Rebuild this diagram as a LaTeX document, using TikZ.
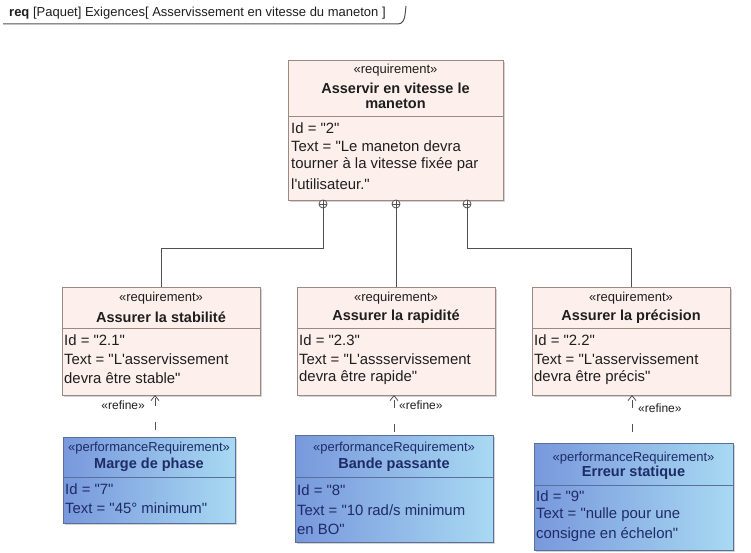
\documentclass[tikz,border=0pt]{standalone}
\usepackage{fontspec}
\setmainfont{Liberation Sans}[Ligatures=TeXOff]
\usetikzlibrary{arrows.meta,shadows}

\definecolor{reqfill}{HTML}{FDF0EC}
\definecolor{reqdraw}{HTML}{9C8A82}
\definecolor{perfL}{HTML}{7898DC}
\definecolor{perfR}{HTML}{A8D9F2}
\definecolor{perfdraw}{HTML}{5B6F9C}
\definecolor{navy}{HTML}{1E2B66}
\definecolor{linegray}{HTML}{505050}
\definecolor{txt}{HTML}{1E1E1E}

\begin{document}
\begin{tikzpicture}[x=1pt,y=-1pt,
  boxshadow/.style={drop shadow={shadow xshift=2pt,shadow yshift=-2pt,opacity=0.35}},
  reqbox/.style={draw=reqdraw, fill=reqfill, line width=0.9pt, boxshadow, inner sep=0pt, outer sep=0pt},
  perfbox/.style={draw=perfdraw, left color=perfL, right color=perfR, line width=0.9pt, boxshadow, inner sep=0pt, outer sep=0pt},
  stereo/.style={font=\fontsize{13}{15}\selectfont, inner sep=0pt, text=txt},
  ttl/.style={font=\fontsize{14.5}{17}\selectfont\bfseries, inner sep=0pt, text=txt},
  body/.style={font=\fontsize{14.9}{17}\selectfont, anchor=west, inner sep=0pt, text=txt},
  pstereo/.style={stereo, text=navy},
  pttl/.style={ttl, text=navy},
  pbody/.style={body, text=navy},
  conn/.style={draw=linegray, line width=0.8pt},
  contain/.style={circle, draw=linegray, fill=white, line width=0.8pt, inner sep=0pt, minimum size=8pt},
  refine/.style={draw=linegray, line width=0.8pt, dash pattern=on 8pt off 16pt, -{Straight Barb[length=5pt,width=8pt]}},
  reflabel/.style={font=\fontsize{12}{14}\selectfont, inner sep=0pt, text=txt}
]
\useasboundingbox (0,0) rectangle (751,553);

% frame header
\node[font=\fontsize{13}{15}\selectfont, anchor=west, inner sep=0pt, text=txt] (hdr) at (9,13)
  {\textbf{req} [Paquet] Exigences[ Asservissement en vitesse du maneton ]};
\draw[linegray, line width=1pt] (3,24) -- (398,24) to[out=0,in=-95] (405,15) -- (406,6);

% top requirement
\node[reqbox, minimum width=215pt, minimum height=140pt] (asv) at (395.5,130) {};
\draw[reqdraw, line width=0.9pt] (asv.west |- 0,116) -- (asv.east |- 0,116);
\node[stereo] (asvs) at (395.5,70) {«requirement»};
\node[ttl] (asvt1) at (395.5,88) {Asservir en vitesse le};
\node[ttl] (asvt2) at (395.5,104) {maneton};
\node[body] (asvb1) at (291,128) {Id = "2"};
\node[body] (asvb2) at (291,146) {Text = "Le maneton devra};
\node[body] (asvb3) at (291,165) {tourner à la vitesse fixée par};
\node[body] (asvb4) at (291,184) {l'utilisateur."};

% three requirements
\node[reqbox, minimum width=198pt, minimum height=108pt] (stab) at (161,341) {};
\draw[reqdraw, line width=0.9pt] (stab.west |- 0,328) -- (stab.east |- 0,328);
\node[stereo] (stabs) at (161,298) {«requirement»};
\node[ttl] (stabt) at (161,317) {Assurer la stabilité};
\node[body] (stabb1) at (64,340) {Id = "2.1"};
\node[body] (stabb2) at (64,359) {Text = "L'asservissement};
\node[body] (stabb3) at (64,378) {devra être stable"};

\node[reqbox, minimum width=198pt, minimum height=108pt] (rap) at (396,341) {};
\draw[reqdraw, line width=0.9pt] (rap.west |- 0,328) -- (rap.east |- 0,328);
\node[stereo] (raps) at (396,298) {«requirement»};
\node[ttl] (rapt) at (396,317) {Assurer la rapidité};
\node[body] (rapb1) at (299,340) {Id = "2.3"};
\node[body] (rapb2) at (299,359) {Text = "L'assservissement};
\node[body] (rapb3) at (299,378) {devra être rapide"};

\node[reqbox, minimum width=198pt, minimum height=108pt] (prec) at (631,341) {};
\draw[reqdraw, line width=0.9pt] (prec.west |- 0,328) -- (prec.east |- 0,328);
\node[stereo] (precs) at (631,298) {«requirement»};
\node[ttl] (prect) at (631,317) {Assurer la précision};
\node[body] (precb1) at (534,340) {Id = "2.2"};
\node[body] (precb2) at (534,359) {Text = "L'asservissement};
\node[body] (precb3) at (534,378) {devra être précis"};

% performance requirements
\node[perfbox, minimum width=172pt, minimum height=86pt] (marge) at (149,480) {};
\draw[perfdraw, line width=0.9pt] (marge.west |- 0,477) -- (marge.east |- 0,477);
\node[pstereo] (marges) at (149,448) {«performanceRequirement»};
\node[pttl] (marget) at (149,465) {Marge de phase};
\node[pbody] (margeb1) at (65,489) {Id = "7"};
\node[pbody] (margeb2) at (65,508) {Text = "45° minimum"};

\node[perfbox, minimum width=198pt, minimum height=107pt] (bande) at (394,488.5) {};
\draw[perfdraw, line width=0.9pt] (bande.west |- 0,477) -- (bande.east |- 0,477);
\node[pstereo] (bandes) at (394,448) {«performanceRequirement»};
\node[pttl] (bandet) at (394,465) {Bande passante};
\node[pbody] (bandeb1) at (297,490) {Id = "8"};
\node[pbody] (bandeb2) at (297,510) {Text = "10 rad/s minimum};
\node[pbody] (bandeb3) at (297,529) {en BO"};

\node[perfbox, minimum width=199pt, minimum height=107pt] (err) at (633.5,496.5) {};
\draw[perfdraw, line width=0.9pt] (err.west |- 0,485) -- (err.east |- 0,485);
\node[pstereo] (errs) at (633.5,458) {«performanceRequirement»};
\node[pttl] (errt) at (633.5,473) {Erreur statique};
\node[pbody] (errb1) at (536,496) {Id = "9"};
\node[pbody] (errb2) at (536,515) {Text = "nulle pour une};
\node[pbody] (errb3) at (536,535) {consigne en échelon"};

% containment connectors
\node[contain] (c1) at (323,204) {};
\node[contain] (c2) at (396,204) {};
\node[contain] (c3) at (467,204) {};
\foreach \c in {c1,c2,c3}{
  \draw[conn] (\c.north) -- (\c.south) (\c.west) -- (\c.east);
}
\draw[conn] (c1.south) -- ++(0,40) -| (stab.north);
\draw[conn] (c2.south) -- (rap.north);
\draw[conn] (c3.south) -- ++(0,40) -| (prec.north);

% refine connectors
\draw[refine, dash phase=17pt] ([xshift=-6pt]stab.south |- marge.north) -- ([xshift=-6pt]stab.south);
\draw[refine, dash phase=21pt] ([xshift=-2pt]rap.south |- bande.north) -- ([xshift=-2pt]rap.south);
\draw[refine, dash phase=13pt] ([xshift=1pt]prec.south |- err.north) -- ([xshift=1pt]prec.south);
\node[reflabel, anchor=east] (l1) at (145,405) {«refine»};
\node[reflabel, anchor=west] (l2) at (399,405) {«refine»};
\node[reflabel, anchor=west] (l3) at (638,408) {«refine»};
\end{tikzpicture}
\end{document}
